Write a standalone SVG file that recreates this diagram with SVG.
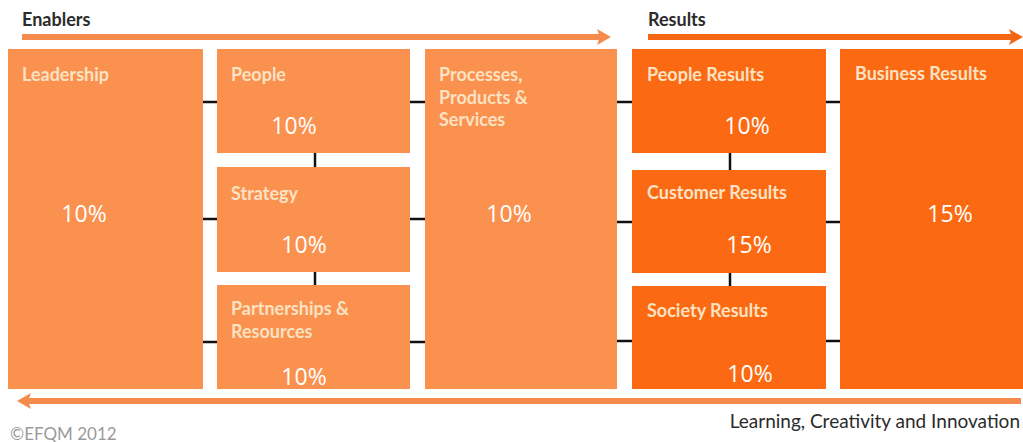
<svg xmlns="http://www.w3.org/2000/svg" width="1023" height="442" viewBox="0 0 1023 442">
<style>
.en{fill:#FA914F}
.rs{fill:#FB6A12}
.lbl{font-family:Lato,"Open Sans",sans-serif;font-weight:bold;font-size:18px;fill:#FBE2C3}
.pct{font-family:"Open Sans","Liberation Sans",sans-serif;font-size:23px;fill:#FFFFFF;text-anchor:middle}
.hdr{font-family:Lato,"Open Sans",sans-serif;font-weight:bold;font-size:18px;fill:#2B2B2B}
.tick{stroke:#111;stroke-width:2.5}
</style>
<rect width="1023" height="442" fill="#FFFFFF"/>
<g id="headers">
<text class="hdr" x="22" y="26">Enablers</text>
<text class="hdr" x="648" y="26">Results</text>
<line x1="22" y1="37" x2="602" y2="37" stroke="#F58A4C" stroke-width="6"/>
<polygon points="597,29 611,37 597,45 600,37" fill="#F58A4C"/>
<line x1="648" y1="37" x2="1014" y2="37" stroke="#F26614" stroke-width="6"/>
<polygon points="1009,29 1023,37 1009,45 1012,37" fill="#F26614"/>
</g>
<g id="connectors">
<line class="tick" x1="203" y1="102" x2="217" y2="102"/>
<line class="tick" x1="410" y1="102" x2="425" y2="102"/>
<line class="tick" x1="617" y1="102" x2="632" y2="102"/>
<line class="tick" x1="826" y1="102" x2="840" y2="102"/>
<line class="tick" x1="203" y1="219" x2="217" y2="219"/>
<line class="tick" x1="410" y1="219" x2="425" y2="219"/>
<line class="tick" x1="617" y1="222" x2="632" y2="222"/>
<line class="tick" x1="826" y1="222" x2="840" y2="222"/>
<line class="tick" x1="203" y1="342" x2="217" y2="342"/>
<line class="tick" x1="410" y1="342" x2="425" y2="342"/>
<line class="tick" x1="617" y1="341" x2="632" y2="341"/>
<line class="tick" x1="826" y1="341" x2="840" y2="341"/>
<line class="tick" x1="315" y1="153" x2="315" y2="167"/>
<line class="tick" x1="315" y1="272" x2="315" y2="285"/>
<line class="tick" x1="730" y1="153" x2="730" y2="170"/>
<line class="tick" x1="730" y1="273" x2="730" y2="286"/>
</g>
<g id="leadership">
<rect class="en" x="8" y="49" width="195" height="340"/>
<text class="lbl" x="22" y="81">Leadership</text>
<text class="pct" x="84" y="222">10%</text>
</g>
<g id="people">
<rect class="en" x="217" y="49" width="193" height="104"/>
<text class="lbl" x="231" y="81">People</text>
<text class="pct" x="294" y="134">10%</text>
</g>
<g id="strategy">
<rect class="en" x="217" y="167" width="193" height="105"/>
<text class="lbl" x="231" y="200">Strategy</text>
<text class="pct" x="304" y="253">10%</text>
</g>
<g id="partnerships">
<rect class="en" x="217" y="285" width="193" height="104"/>
<text class="lbl" x="231" y="315">Partnerships &amp;</text>
<text class="lbl" x="231" y="338">Resources</text>
<text class="pct" x="304" y="385">10%</text>
</g>
<g id="processes">
<rect class="en" x="425" y="49" width="192" height="340"/>
<text class="lbl" x="439" y="81">Processes,</text>
<text class="lbl" x="439" y="104">Products &amp;</text>
<text class="lbl" x="439" y="126">Services</text>
<text class="pct" x="509" y="222">10%</text>
</g>
<g id="people-results">
<rect class="rs" x="632" y="49" width="194" height="104"/>
<text class="lbl" x="647" y="81">People Results</text>
<text class="pct" x="747" y="134">10%</text>
</g>
<g id="customer-results">
<rect class="rs" x="632" y="170" width="194" height="103"/>
<text class="lbl" x="647" y="199">Customer Results</text>
<text class="pct" x="749" y="253">15%</text>
</g>
<g id="society-results">
<rect class="rs" x="632" y="286" width="194" height="103"/>
<text class="lbl" x="647" y="317">Society Results</text>
<text class="pct" x="750" y="382">10%</text>
</g>
<g id="business-results">
<rect class="rs" x="840" y="49" width="183" height="340"/>
<text class="lbl" x="855" y="80">Business Results</text>
<text class="pct" x="950" y="222">15%</text>
</g>
<g id="footer">
<line x1="26" y1="401" x2="1021" y2="401" stroke="#F58A4C" stroke-width="6"/>
<polygon points="31,393 17,401 31,409 28,401" fill="#F58A4C"/>
<text x="1020" y="428" text-anchor="end" font-family="Lato,'Open Sans',sans-serif" font-size="19" fill="#2B2B2B">Learning, Creativity and Innovation</text>
<text x="10" y="440" font-family="Lato,'Open Sans',sans-serif" font-size="17" fill="#9A9A9A">©EFQM 2012</text>
</g>
</svg>
